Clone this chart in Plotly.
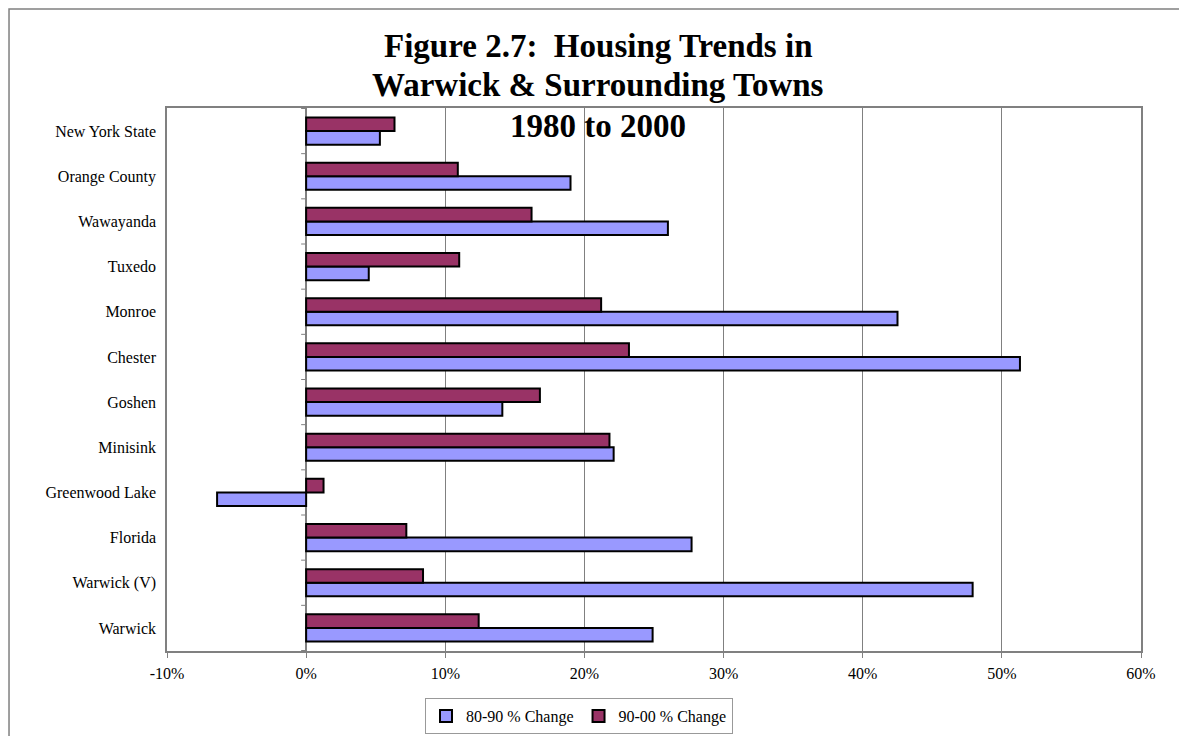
import plotly.graph_objects as go

# Kategóríur frá neðsta til efsta
towns = ["Warwick", "Warwick (V)", "Florida", "Greenwood Lake", "Minisink", "Goshen",
         "Chester", "Monroe", "Tuxedo", "Wawayanda", "Orange County", "New York State"]
change_80_90 = [24.9, 47.9, 27.7, -6.4, 22.1, 14.1, 51.3, 42.5, 4.5, 26.0, 19.0, 5.3]
change_90_00 = [12.4, 8.4, 7.2, 1.25, 21.8, 16.8, 23.2, 21.2, 11.0, 16.2, 10.9, 6.35]
x_ticks = [-10, 0, 10, 20, 30, 40, 50, 60]
x_ticktext = [f"{t}%" for t in x_ticks]
title_lines = ["Figure 2.7:&nbsp; Housing Trends in", "Warwick &amp; Surrounding Towns", "1980 to 2000"]

serif = "Liberation Serif, Times New Roman, serif"

fig = go.Figure()
fig.add_trace(go.Bar(
    y=towns, x=change_80_90, orientation="h", name="80-90 % Change",
    marker=dict(color="#9999FF", line=dict(color="black", width=2)),
))
fig.add_trace(go.Bar(
    y=towns, x=change_90_00, orientation="h", name="90-00 % Change",
    marker=dict(color="#993366", line=dict(color="black", width=2)),
))

# Litlar merkingar á 0-línunni milli flokka
shapes = []
for k in range(len(towns) + 1):
    shapes.append(dict(type="line", xref="x", yref="y", xsizemode="pixel", xanchor=0,
                       x0=-5, x1=0, y0=k - 0.5, y1=k - 0.5,
                       line=dict(color="#808080", width=1)))
# Rammi utan um allt ritið (aðeins vinstri og efri brún sjást)
shapes.append(dict(type="rect", xref="paper", yref="paper",
                   x0=-0.1622, x1=1.3, y0=-0.4, y1=1.1823,
                   line=dict(color="#808080", width=1.5)))

# Titill, ein lína í einu
annotations = []
for line, ypos in zip(title_lines, [1.1142, 1.0424, 0.9669]):
    annotations.append(dict(
        text=f"<b>{line}</b>", xref="paper", yref="paper", x=0.443, y=ypos,
        xanchor="center", yanchor="middle", showarrow=False,
        font=dict(family=serif, size=33, color="black"),
    ))

fig.update_layout(
    width=1179, height=728,
    margin=dict(l=159, r=46, t=100, b=85, autoexpand=False),
    paper_bgcolor="white", plot_bgcolor="white",
    barmode="group", bargap=0.4, bargroupgap=0,
    font=dict(family=serif, size=16, color="black"),
    showlegend=True,
    legend=dict(orientation="h", x=0.423, y=-0.1197, xanchor="center", yanchor="middle",
                bordercolor="#999999", borderwidth=1, font=dict(size=16),
                traceorder="normal", itemwidth=30),
    shapes=shapes,
    annotations=annotations,
)
fig.update_xaxes(
    range=[-10, 60], tickvals=x_ticks, ticktext=x_ticktext,
    showgrid=True, gridcolor="#808080", gridwidth=1,
    zeroline=True, zerolinecolor="#808080", zerolinewidth=1.5,
    showline=True, linecolor="#808080", linewidth=1.5, mirror=True,
    ticks="outside", ticklen=5, tickcolor="#808080",
    ticklabelstandoff=2, fixedrange=True,
)
fig.update_yaxes(
    type="category", categoryorder="array", categoryarray=towns,
    showgrid=False, showline=True, linecolor="#808080", linewidth=1.5, mirror=True,
    ticks="", ticklabelstandoff=6, fixedrange=True,
)

fig.write_html("out.html")
